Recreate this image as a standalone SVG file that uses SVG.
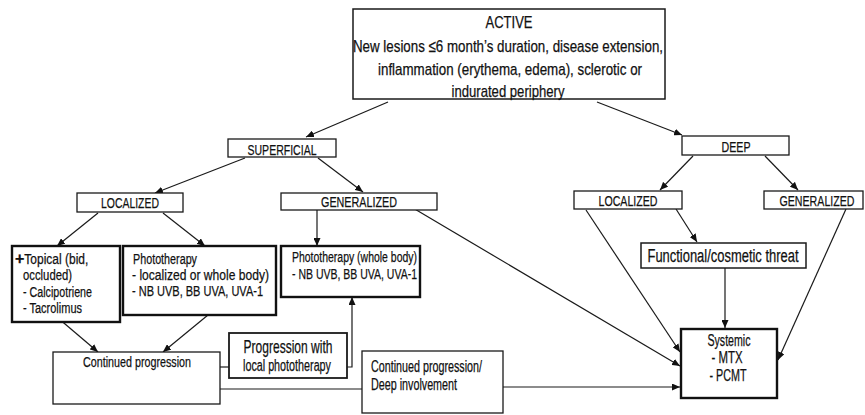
<svg xmlns="http://www.w3.org/2000/svg" width="865" height="415" viewBox="0 0 865 415">
<style>
.b{fill:#fff;stroke:#1a1a1a;stroke-width:1.3}
.t{fill:#fff;stroke:#111;stroke-width:2.4}
text{font-family:"Liberation Sans Narrow","Liberation Sans",Arial,sans-serif;fill:#111;stroke:#111;stroke-width:0.25}
.c{stroke:#1a1a1a;stroke-width:1.2;fill:none}
.a{marker-end:url(#ah)}
</style>
<defs>
<marker id="ah" markerUnits="userSpaceOnUse" markerWidth="9" markerHeight="7" refX="8" refY="3.5" orient="auto">
<path d="M0,0 L8,3.5 L0,7 z" fill="#111"/>
</marker>
</defs>
<rect width="865" height="415" fill="#fff"/>
<g id="connectors">
<line class="c a" x1="388" y1="102" x2="306" y2="137"/>
<line class="c a" x1="597" y1="102" x2="682" y2="135"/>
<line class="c a" x1="245" y1="158" x2="155" y2="193"/>
<line class="c a" x1="318" y1="158" x2="363" y2="192"/>
<line class="c a" x1="98" y1="213" x2="57" y2="246"/>
<line class="c a" x1="163" y1="213" x2="205" y2="246"/>
<line class="c a" x1="317" y1="210" x2="317" y2="246"/>
<line class="c a" x1="58" y1="318" x2="98" y2="352"/>
<line class="c a" x1="208" y1="315" x2="163" y2="352"/>
<line class="c" x1="220" y1="367" x2="229" y2="367"/>
<polyline class="c a" points="347,367 352,367 352,297"/>
<line class="c" x1="220" y1="389" x2="362" y2="389"/>
<line class="c a" x1="503" y1="387" x2="680" y2="387"/>
<line class="c a" x1="413" y1="208" x2="680" y2="366"/>
<line class="c a" x1="586" y1="210" x2="680" y2="352"/>
<line class="c a" x1="693" y1="156" x2="660" y2="190"/>
<line class="c a" x1="765" y1="156" x2="798" y2="190"/>
<line class="c a" x1="676" y1="209" x2="697" y2="242"/>
<line class="c a" x1="725" y1="268" x2="725" y2="328"/>
<line class="c a" x1="846" y1="209" x2="778" y2="360"/>
</g>
<g id="active">
<rect class="b" x="353" y="9" width="312" height="90" style="stroke-width:1.5"/>
<text x="509" y="28" font-size="17" text-anchor="middle" textLength="47" lengthAdjust="spacingAndGlyphs">ACTIVE</text>
<text x="508" y="52" font-size="17" text-anchor="middle" textLength="310" lengthAdjust="spacingAndGlyphs">New lesions ≤6 month’s duration, disease extension,</text>
<text x="510" y="75" font-size="17" text-anchor="middle" textLength="264" lengthAdjust="spacingAndGlyphs">inflammation (erythema, edema), sclerotic or</text>
<text x="508" y="97" font-size="17" text-anchor="middle" textLength="113" lengthAdjust="spacingAndGlyphs">indurated periphery</text>
</g>
<g id="superficial">
<rect class="b" x="228" y="139" width="108" height="18"/>
<text x="282" y="154.5" font-size="15" text-anchor="middle" textLength="69" lengthAdjust="spacingAndGlyphs">SUPERFICIAL</text>
</g>
<g id="deep">
<rect class="b" x="682" y="136" width="107" height="19"/>
<text x="736" y="151.5" font-size="15" text-anchor="middle" textLength="29" lengthAdjust="spacingAndGlyphs">DEEP</text>
</g>
<g id="localized-superficial">
<rect class="b" x="77" y="193" width="106" height="19"/>
<text x="130" y="207.5" font-size="15" text-anchor="middle" textLength="58" lengthAdjust="spacingAndGlyphs">LOCALIZED</text>
</g>
<g id="generalized-superficial">
<rect class="b" x="281" y="193" width="156" height="17"/>
<text x="359" y="206.5" font-size="15" text-anchor="middle" textLength="76" lengthAdjust="spacingAndGlyphs">GENERALIZED</text>
</g>
<g id="topical">
<rect class="t" x="12" y="246" width="108" height="76"/>
<text x="15" y="264" font-size="15.5"><tspan font-weight="bold" font-size="16">+</tspan><tspan textLength="64" lengthAdjust="spacingAndGlyphs">Topical (bid,</tspan></text>
<text x="23" y="280" font-size="15.5" textLength="49" lengthAdjust="spacingAndGlyphs">occluded)</text>
<text x="23" y="297" font-size="15.5" textLength="69" lengthAdjust="spacingAndGlyphs">- Calcipotriene</text>
<text x="23" y="313" font-size="15.5" textLength="59" lengthAdjust="spacingAndGlyphs">- Tacrolimus</text>
</g>
<g id="phototherapy-local">
<rect class="t" x="123" y="246" width="153" height="69"/>
<text x="133" y="264" font-size="15.5" textLength="64" lengthAdjust="spacingAndGlyphs">Phototherapy</text>
<text x="132" y="280" font-size="15.5" textLength="137" lengthAdjust="spacingAndGlyphs">- localized or whole body)</text>
<text x="132" y="296" font-size="15.5" textLength="131" lengthAdjust="spacingAndGlyphs">- NB UVB, BB UVA, UVA-1</text>
</g>
<g id="phototherapy-whole">
<rect class="t" x="281" y="246" width="139" height="51"/>
<text x="292" y="262" font-size="15.5" textLength="125" lengthAdjust="spacingAndGlyphs">Phototherapy (whole body)</text>
<text x="292" y="279" font-size="15.5" textLength="125" lengthAdjust="spacingAndGlyphs">- NB UVB, BB UVA, UVA-1</text>
</g>
<g id="continued-progression">
<rect class="b" x="53" y="352" width="167" height="52"/>
<text x="137" y="367" font-size="15.5" text-anchor="middle" textLength="108" lengthAdjust="spacingAndGlyphs">Continued progression</text>
</g>
<g id="progression-local">
<rect class="b" x="229" y="333" width="118" height="45" style="stroke-width:1.8"/>
<text x="288" y="353" font-size="19" text-anchor="middle" textLength="89" lengthAdjust="spacingAndGlyphs">Progression with</text>
<text x="287" y="371" font-size="16" text-anchor="middle" textLength="88" lengthAdjust="spacingAndGlyphs">local phototherapy</text>
</g>
<g id="continued-deep">
<rect class="b" x="362" y="351" width="141" height="62"/>
<text x="371" y="372" font-size="16" textLength="111" lengthAdjust="spacingAndGlyphs">Continued progression/</text>
<text x="371" y="390" font-size="16" textLength="86" lengthAdjust="spacingAndGlyphs">Deep involvement</text>
</g>
<g id="localized-deep">
<rect class="b" x="574" y="191" width="108" height="18"/>
<text x="628" y="205.5" font-size="15" text-anchor="middle" textLength="59" lengthAdjust="spacingAndGlyphs">LOCALIZED</text>
</g>
<g id="generalized-deep">
<rect class="b" x="764" y="191" width="99" height="18"/>
<text x="817" y="205.5" font-size="15" text-anchor="middle" textLength="75" lengthAdjust="spacingAndGlyphs">GENERALIZED</text>
</g>
<g id="functional">
<rect class="b" x="641" y="243" width="165" height="25" style="stroke-width:1.5"/>
<text x="723" y="261.5" font-size="18" text-anchor="middle" textLength="151" lengthAdjust="spacingAndGlyphs">Functional/cosmetic threat</text>
</g>
<g id="systemic">
<rect class="t" x="681" y="329" width="96" height="69"/>
<text x="729" y="346" font-size="16" text-anchor="middle" textLength="43" lengthAdjust="spacingAndGlyphs">Systemic</text>
<text x="727" y="363" font-size="16" text-anchor="middle" textLength="31" lengthAdjust="spacingAndGlyphs">- MTX</text>
<text x="728" y="381" font-size="16" text-anchor="middle" textLength="37" lengthAdjust="spacingAndGlyphs">- PCMT</text>
</g>
</svg>
